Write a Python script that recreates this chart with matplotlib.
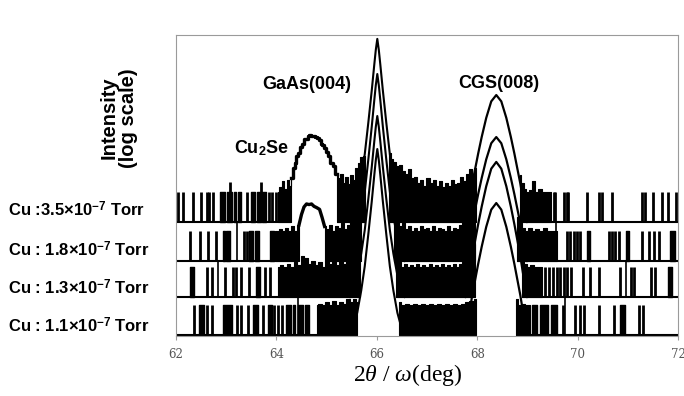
import matplotlib.pyplot as plt
import numpy as np

plt.rcParams['mathtext.fontset'] = 'custom'
plt.rcParams['mathtext.rm'] = 'Liberation Sans'
plt.rcParams['mathtext.bf'] = 'Liberation Sans:bold'
plt.rcParams['mathtext.it'] = 'Liberation Serif:italic'

# stacked XRD scans (log intensity, one noise count = 1 unit)
labels = ["Cu :3.5×10$^{\\mathbf{-7}}$ Torr", "Cu : 1.8×10$^{\\mathbf{-7}}$ Torr",
          "Cu : 1.3×10$^{\\mathbf{-7}}$ Torr", "Cu : 1.1×10$^{\\mathbf{-7}}$ Torr"]
baseline = [3.77, 2.47, 1.27, 0.0]

gaas_pos = 66.01
gaas_height = [6.1, 6.23, 6.03, 6.2]
gaas_dx = [-0.55, -0.48, -0.40, -0.32, -0.25, -0.18, -0.11, -0.06, -0.03, 0,
           0.03, 0.06, 0.11, 0.18, 0.25, 0.32, 0.40, 0.48, 0.55]
gaas_fr = [0, 0.04, 0.12, 0.24, 0.37, 0.54, 0.72, 0.86, 0.94, 1.0,
           0.94, 0.86, 0.72, 0.54, 0.37, 0.24, 0.12, 0.04, 0]

cgs_pos = 68.38
cgs_height = [4.23, 4.13, 4.5, 4.4]
cgs_dx = [-0.62, -0.58, -0.53, -0.48, -0.42, -0.36, -0.29, -0.2, -0.1, 0,
          0.1, 0.2, 0.29, 0.36, 0.42, 0.48, 0.53, 0.58, 0.62]
cgs_fr = [0, 0.08, 0.18, 0.3, 0.42, 0.54, 0.67, 0.82, 0.95, 1.0,
          0.95, 0.82, 0.67, 0.54, 0.42, 0.3, 0.18, 0.08, 0]

# Cu2Se peak (top scan) and small bump (second scan)
cu_x = [64.30, 64.35, 64.38, 64.41, 64.45, 64.48, 64.52, 64.56, 64.6, 64.64, 64.67, 64.71,
        64.74, 64.78, 64.82, 64.86, 64.9, 64.93, 64.97, 65.01, 65.05, 65.1, 65.15, 65.2]
cu_y = [1.45, 1.8, 1.95, 2.2, 2.3, 2.5, 2.6, 2.75, 2.78, 2.85, 2.9, 2.87,
        2.88, 2.84, 2.8, 2.72, 2.6, 2.55, 2.45, 2.33, 2.2, 1.95, 1.85, 1.6]
bump_x = [64.45, 64.5, 64.55, 64.6, 64.65, 64.7, 64.75, 64.8, 64.86, 64.91, 64.96]
bump_y = [1.2, 1.55, 1.8, 1.9, 1.88, 1.9, 1.82, 1.78, 1.72, 1.45, 1.15]

# single-count spikes
spikes = [
    [62.03, 62.13, 62.33, 62.49, 62.61, 62.66, 62.74, 63.41, 63.85, 63.92, 64.0,
     69.52, 69.55, 69.72, 69.78, 69.81, 70.18, 70.42, 70.48, 70.68, 71.28, 71.35,
     71.51, 71.68, 71.81, 71.96],
    [62.27, 62.48, 62.63, 62.80, 63.36, 63.41, 69.79, 69.85, 69.92, 69.99, 70.05,
     70.62, 70.69, 70.75, 70.82, 71.28, 71.42, 71.52, 71.62],
    [62.61, 62.72, 62.98, 63.14, 63.19, 63.29, 63.46, 63.77, 63.87, 69.35, 69.43,
     69.51, 69.59, 69.65, 69.73, 69.79, 69.87, 70.11, 70.25, 70.43, 70.84, 71.06,
     71.12, 71.46, 71.55],
    [62.35, 62.61, 62.71, 63.21, 63.3, 63.44, 63.74, 63.95, 64.04, 64.12, 69.71,
     69.95, 70.05, 70.13, 70.43, 70.73, 71.22, 71.30],
]
tall = [[(63.08, 1.33), (63.69, 1.33)], [], [], []]

# clusters of spikes (x0, x1)
blocks = [
    [(62.88, 62.97), (63.02, 63.12), (63.15, 63.2), (63.24, 63.3), (63.5, 63.58),
     (63.61, 63.7), (63.72, 63.79)],
    [(62.93, 62.98), (63.0, 63.07), (63.46, 63.53), (63.58, 63.65), (63.88, 63.95),
     (70.19, 70.25), (70.96, 71.02), (71.84, 71.94)],
    [(62.28, 62.35), (63.6, 63.67), (71.8, 71.88)],
    [(62.45, 62.55), (62.94, 63.11), (63.54, 63.64), (63.84, 63.91), (64.2, 64.3),
     (64.34, 64.38), (64.44, 64.52), (64.57, 64.65), (69.1, 69.2), (69.25, 69.42),
     (69.48, 69.58), (70.84, 70.94)],
]

# drops down to the next scan's baseline
dips = [[63.22, 69.57], [62.83, 70.96], [64.44, 69.75], []]

# dense noise envelopes (x, level)
dense = [
    [
        [(64.03, 1.0), (64.08, 1.15), (64.13, 1.35), (64.18, 1.1), (64.23, 1.4), (64.27, 1.2), (64.30, 1.45)],
        [(65.2, 1.6), (65.25, 1.45), (65.3, 1.6), (65.35, 1.3), (65.4, 1.5), (65.45, 1.25), (65.5, 1.55),
         (65.55, 1.4), (65.6, 1.8), (65.65, 1.95), (65.7, 2.15), (65.76, 2.2)],
        [(66.25, 2.3), (66.3, 2.1), (66.36, 2.0), (66.42, 1.85), (66.48, 1.9), (66.54, 1.7), (66.6, 1.6),
         (66.66, 1.75), (66.72, 1.45), (66.78, 1.5), (66.84, 1.3), (66.9, 1.4), (66.96, 1.2), (67.02, 1.45),
         (67.08, 1.3), (67.14, 1.4), (67.2, 1.2), (67.26, 1.35), (67.32, 1.15), (67.38, 1.3), (67.44, 1.2),
         (67.5, 1.4), (67.56, 1.25), (67.62, 1.3), (67.68, 1.5), (67.74, 1.35), (67.8, 1.6), (67.86, 1.75),
         (67.92, 1.6), (67.97, 1.8)],
        [(68.85, 1.55), (68.9, 1.3), (68.95, 1.1), (69.0, 1.0), (69.06, 1.05), (69.13, 1.37), (69.18, 1.0),
         (69.25, 1.1), (69.32, 1.0), (69.4, 1.0), (69.47, 1.0)],
    ],
    [
        [(63.97, 1.0), (64.03, 1.0), (64.09, 1.05), (64.15, 1.0), (64.21, 1.1), (64.27, 1.0), (64.33, 1.15),
         (64.39, 1.0), (64.45, 1.2)],
        [(64.96, 1.15), (65.02, 1.05), (65.08, 1.2), (65.14, 1.0), (65.2, 1.15), (65.26, 1.1), (65.32, 1.25),
         (65.38, 1.05), (65.44, 1.2), (65.5, 1.3), (65.56, 1.45), (65.62, 1.7), (65.68, 1.95)],
        [(66.35, 1.5), (66.41, 1.3), (66.47, 1.15), (66.53, 1.25), (66.59, 1.05), (66.65, 1.15), (66.71, 1.0),
         (66.77, 1.1), (66.83, 1.0), (66.89, 1.15), (66.95, 1.05), (67.01, 1.1), (67.07, 1.0), (67.13, 1.15),
         (67.19, 1.0), (67.25, 1.1), (67.31, 1.05), (67.37, 1.0), (67.43, 1.15), (67.49, 1.0), (67.55, 1.1),
         (67.61, 1.05), (67.66, 1.2), (67.72, 1.3), (67.78, 1.45), (67.84, 1.6), (67.9, 1.7), (67.95, 1.8)],
        [(68.8, 1.45), (68.86, 1.25), (68.92, 1.1), (68.98, 1.0), (69.05, 1.1), (69.12, 1.0), (69.2, 1.05),
         (69.28, 1.0), (69.36, 1.1), (69.44, 1.0), (69.52, 1.0), (69.59, 1.0)],
    ],
    [
        [(64.03, 1.0), (64.1, 1.05), (64.17, 1.0), (64.24, 1.1), (64.31, 1.0), (64.38, 1.15), (64.45, 1.05),
         (64.52, 1.35), (64.59, 1.3), (64.66, 1.1), (64.73, 1.2), (64.8, 1.05), (64.87, 1.15), (64.94, 1.0),
         (65.01, 1.2), (65.08, 1.1), (65.15, 1.25), (65.22, 1.05), (65.29, 1.2), (65.36, 1.1), (65.43, 1.25),
         (65.5, 1.3), (65.56, 1.35), (65.62, 1.5), (65.66, 1.55)],
        [(66.38, 1.35), (66.45, 1.15), (66.52, 1.0), (66.58, 1.1), (66.64, 1.0), (66.7, 1.05), (66.76, 1.0),
         (66.82, 1.1), (66.88, 1.0), (66.94, 1.05), (67.0, 1.0), (67.06, 1.1), (67.12, 1.0), (67.18, 1.05),
         (67.24, 1.0), (67.3, 1.1), (67.36, 1.0), (67.42, 1.05), (67.48, 1.0), (67.54, 1.1), (67.6, 1.0),
         (67.66, 1.1), (67.72, 1.15), (67.8, 1.2), (67.88, 1.5), (67.95, 1.75)],
        [(68.9, 1.3), (68.96, 1.1), (69.02, 1.0), (69.1, 1.05), (69.18, 1.0), (69.26, 1.0), (69.3, 1.0)],
    ],
    [
        [(64.8, 1.0), (64.87, 1.05), (64.94, 1.0), (65.01, 1.1), (65.08, 1.0), (65.15, 1.15), (65.22, 1.0),
         (65.29, 1.1), (65.36, 1.05), (65.43, 1.2), (65.5, 1.1), (65.56, 1.2), (65.6, 1.1)],
        [(66.45, 1.1), (66.52, 1.0), (66.6, 1.05), (66.68, 1.0), (66.76, 1.05), (66.84, 1.0), (66.92, 1.05),
         (67.0, 1.0), (67.08, 1.05), (67.16, 1.0), (67.24, 1.05), (67.32, 1.0), (67.4, 1.05), (67.48, 1.0),
         (67.56, 1.05), (67.64, 1.0), (67.72, 1.05), (67.8, 1.1), (67.88, 1.15), (67.98, 1.2)],
        [(68.78, 1.2), (68.85, 1.0), (68.92, 1.05), (69.0, 1.0), (69.05, 1.0)],
    ],
]

# where the baseline is hidden (inside peaks)
gaps = [
    [(64.30, 65.2), (65.76, 66.25), (67.97, 68.85)],
    [(64.45, 64.96), (65.68, 66.35), (67.95, 68.8)],
    [(65.66, 66.38), (67.95, 68.9)],
    [(65.6, 66.45), (67.98, 68.78)],
]

fig = plt.figure(figsize=(6.84, 3.96), dpi=100)
ax = fig.add_axes([176 / 684, 60 / 396, 502 / 684, 301 / 396])
ax.set_xlim(62, 72)
ax.set_ylim(-0.03, 10.0)

for k in range(4):
    b = baseline[k]
    nb = baseline[k + 1] if k < 3 else 0.0
    # baseline pieces
    edges = [62.0] + [e for g in gaps[k] for e in g] + [72.0]
    for x0, x1 in zip(edges[::2], edges[1::2]):
        ax.hlines(b, x0, x1, color='black', lw=1.5)
    ax.vlines(spikes[k], b, b + 1.0, color='black', lw=2.0)
    for x, h in tall[k]:
        ax.vlines(x, b, b + h, color='black', lw=2.0)
    for x0, x1 in blocks[k]:
        ax.fill_between([x0, x1], b, b + 1.0, color='black', lw=1.0)
    if dips[k]:
        ax.vlines(dips[k], nb, b, color='black', lw=1.2)
    for seg in dense[k]:
        xs = np.array([p[0] for p in seg])
        ys = np.array([p[1] for p in seg])
        ax.fill_between(xs, b, b + ys, step='mid', color='black', lw=0.8)
    ax.plot(gaas_pos + np.array(gaas_dx), b + gaas_height[k] * np.array(gaas_fr),
            color='black', lw=1.5)
    ax.plot(cgs_pos + np.array(cgs_dx), b + cgs_height[k] * np.array(cgs_fr),
            color='black', lw=1.6)

ax.plot(cu_x, baseline[0] + np.array(cu_y), color='black', lw=2.4, drawstyle='steps-mid')
ax.plot(bump_x, baseline[1] + np.array(bump_y), color='black', lw=2.4)

for s in ax.spines.values():
    s.set_color('#9a9a9a')
    s.set_linewidth(0.8)
ax.set_yticks([])
ax.set_xticks([62, 64, 66, 68, 70, 72])
ax.tick_params(axis='x', direction='out', length=3, color='#9a9a9a', pad=6,
               labelsize=8.5, labelcolor='#555555')
for t in ax.get_xticklabels():
    t.set_fontfamily('DejaVu Serif')

W, H = 684, 396
fig.text(408 / W, 1 - 381 / H, r"2$\theta$ / $\omega$(deg)", ha='center', va='baseline',
         fontsize=17, family='Liberation Serif')
fig.text(119 / W, 1 - 118 / H, "Intensity\n(log scale)", rotation=90, ha='center',
         va='center', fontsize=14.5, fontweight='bold', family='Liberation Sans',
         linespacing=1.05)

label_y = [216.5, 256, 294, 332.5]
for lab, y in zip(labels, label_y):
    fig.text(8 / W, 1 - y / H, lab, ha='left', va='baseline', fontsize=12,
             fontweight='bold', family='Liberation Sans')

fig.text(307 / W, 1 - 89 / H, "GaAs(004)", ha='center', va='baseline', fontsize=13,
         fontweight='bold', family='Liberation Sans')
fig.text(499 / W, 1 - 88 / H, "CGS(008)", ha='center', va='baseline', fontsize=13,
         fontweight='bold', family='Liberation Sans')
fig.text(261 / W, 1 - 153 / H, r"Cu$_{\mathbf{2}}$Se", ha='center', va='baseline',
         fontsize=13, fontweight='bold', family='Liberation Sans')

fig.savefig('out.png', dpi=100)
